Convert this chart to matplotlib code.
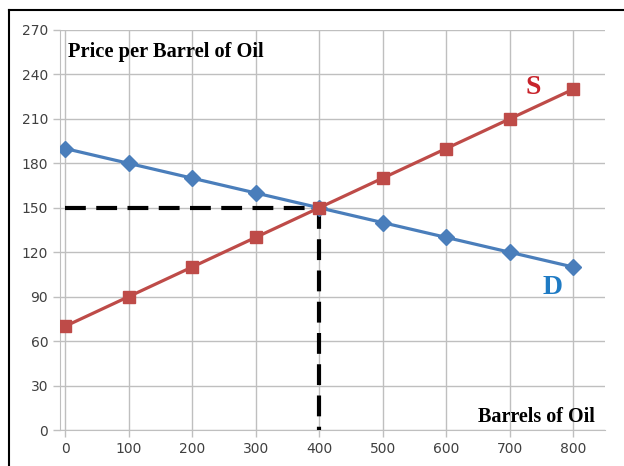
import numpy as np
import matplotlib.pyplot as plt
from matplotlib.lines import Line2D

# data
barrels = [0, 100, 200, 300, 400, 500, 600, 700, 800]
demand = [190, 180, 170, 160, 150, 140, 130, 120, 110]
supply = [70, 90, 110, 130, 150, 170, 190, 210, 230]
eq_q = 400
eq_p = 150
yticks = list(range(0, 271, 30))

fig = plt.figure(figsize=(6.24, 4.66), dpi=100)
W, H = 624, 466
ax = fig.add_axes([60/W, (H-430)/H, 545/W, 400/H])

grid_col = '#BFBFBF'
ax.plot(barrels, demand, color='#4A7EBB', lw=2.3, marker='D', ms=8,
        zorder=4)
ax.plot(barrels, supply, color='#BE4B48', lw=2.3, marker='s', ms=8.5,
        zorder=5)

# equilibrium dashed guides
ax.plot([barrels[0], eq_q], [eq_p, eq_p], color='black', lw=3,
        dashes=(5, 2.5), zorder=3)
ax.plot([eq_q, eq_q], [eq_p, 0], color='black', lw=3,
        dashes=(5, 2.5), zorder=3)

ax.set_xlim(-8, 850)
ax.set_ylim(0, 270)
ax.set_xticks(barrels)
ax.set_yticks(yticks)
ax.grid(True, color=grid_col, lw=1)
ax.set_axisbelow(True)
for side in ['top', 'right']:
    ax.spines[side].set_visible(False)
for side in ['left', 'bottom']:
    ax.spines[side].set_color(grid_col)
ax.tick_params(colors=grid_col, labelcolor='#404040', labelsize=10,
               length=5, width=1)

ax.text(5, 255, 'Price per Barrel of Oil', family='Liberation Serif',
        fontweight='bold', fontsize=14.7, va='center', ha='left')
ax.text(742, 9, 'Barrels of Oil', family='Liberation Serif',
        fontweight='bold', fontsize=14.5, va='center', ha='center')
ax.text(737, 231, 'S', family='Liberation Serif', fontweight='bold',
        fontsize=20, color='#C8232B', va='center', ha='center')
ax.text(768, 96, 'D', family='Liberation Serif', fontweight='bold',
        fontsize=20, color='#1F7BC4', va='center', ha='center')

# outer chart border
fig.add_artist(Line2D([9/W, 9/W], [0, 1 - 10/H], color='black', lw=1.5))
fig.add_artist(Line2D([9/W, 1], [1 - 10/H, 1 - 10/H], color='black', lw=1.5))

fig.savefig('out.png', dpi=100)
